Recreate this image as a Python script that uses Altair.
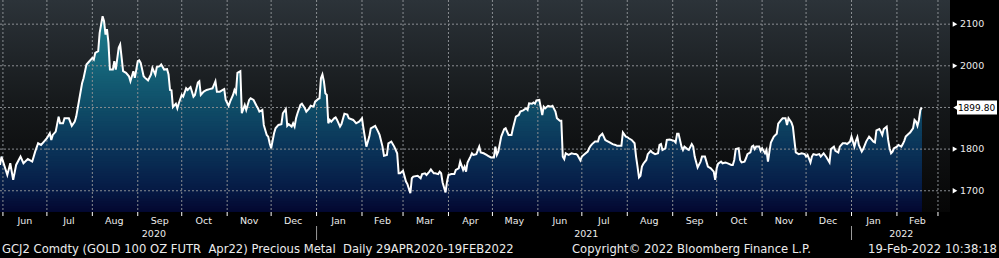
import altair as alt
import pandas as pd

# ---------------- data ----------------
DATES = [
    "2020-05-30", "2020-05-31",
    "2020-06-04", "2020-06-06", "2020-06-08", "2020-06-10", "2020-06-13", "2020-06-15", "2020-06-18",
    "2020-06-21", "2020-06-23", "2020-06-25", "2020-06-27", "2020-06-29",
    "2020-07-01", "2020-07-03", "2020-07-04", "2020-07-05", "2020-07-07", "2020-07-09", "2020-07-10",
    "2020-07-12", "2020-07-13", "2020-07-16", "2020-07-18", "2020-07-20", "2020-07-21", "2020-07-23",
    "2020-07-25", "2020-07-26", "2020-07-28", "2020-07-30",
    "2020-08-01", "2020-08-02", "2020-08-03", "2020-08-05", "2020-08-06", "2020-08-08", "2020-08-09",
    "2020-08-10", "2020-08-11", "2020-08-12", "2020-08-13", "2020-08-15", "2020-08-16", "2020-08-17",
    "2020-08-19", "2020-08-20", "2020-08-21", "2020-08-22", "2020-08-24", "2020-08-26", "2020-08-27",
    "2020-08-29", "2020-08-30",
    "2020-09-01", "2020-09-02", "2020-09-03", "2020-09-05", "2020-09-06", "2020-09-08", "2020-09-10",
    "2020-09-11", "2020-09-13", "2020-09-14", "2020-09-16", "2020-09-17", "2020-09-19", "2020-09-21",
    "2020-09-22", "2020-09-23", "2020-09-24", "2020-09-25", "2020-09-27", "2020-09-28", "2020-09-29",
    "2020-10-01", "2020-10-02", "2020-10-04", "2020-10-05", "2020-10-07", "2020-10-09", "2020-10-10",
    "2020-10-12", "2020-10-13", "2020-10-14", "2020-10-16", "2020-10-18", "2020-10-20", "2020-10-22",
    "2020-10-24", "2020-10-25", "2020-10-27", "2020-10-29", "2020-10-30", "2020-10-31",
    "2020-11-02", "2020-11-03", "2020-11-05", "2020-11-06", "2020-11-07", "2020-11-08", "2020-11-10",
    "2020-11-11", "2020-11-13", "2020-11-14", "2020-11-16", "2020-11-17", "2020-11-19", "2020-11-21",
    "2020-11-22", "2020-11-23", "2020-11-25", "2020-11-26", "2020-11-28", "2020-11-29", "2020-11-30",
    "2020-12-01", "2020-12-03", "2020-12-04", "2020-12-06", "2020-12-08", "2020-12-09", "2020-12-11",
    "2020-12-12", "2020-12-13", "2020-12-15", "2020-12-16", "2020-12-17", "2020-12-18", "2020-12-19",
    "2020-12-21", "2020-12-22", "2020-12-24", "2020-12-25", "2020-12-27", "2020-12-28", "2020-12-30",
    "2020-12-31",
    "2021-01-02", "2021-01-03", "2021-01-04", "2021-01-05", "2021-01-06", "2021-01-07", "2021-01-08",
    "2021-01-09", "2021-01-10", "2021-01-11", "2021-01-13", "2021-01-14", "2021-01-15", "2021-01-17",
    "2021-01-18", "2021-01-20", "2021-01-22", "2021-01-23", "2021-01-26", "2021-01-28", "2021-01-30",
    "2021-02-01", "2021-02-02", "2021-02-04", "2021-02-06", "2021-02-07", "2021-02-10", "2021-02-12",
    "2021-02-13", "2021-02-15", "2021-02-16", "2021-02-18", "2021-02-19", "2021-02-21", "2021-02-23",
    "2021-02-25", "2021-02-26", "2021-02-27",
    "2021-03-01", "2021-03-03", "2021-03-04", "2021-03-06", "2021-03-07", "2021-03-08", "2021-03-11",
    "2021-03-13", "2021-03-14", "2021-03-16", "2021-03-17", "2021-03-19", "2021-03-20", "2021-03-22",
    "2021-03-23", "2021-03-25", "2021-03-26", "2021-03-27", "2021-03-28", "2021-03-30", "2021-03-31",
    "2021-04-01", "2021-04-03", "2021-04-05", "2021-04-06", "2021-04-08", "2021-04-09", "2021-04-11",
    "2021-04-12", "2021-04-13", "2021-04-14", "2021-04-16", "2021-04-17", "2021-04-18", "2021-04-20",
    "2021-04-22", "2021-04-23", "2021-04-25", "2021-04-27", "2021-04-28", "2021-04-30",
    "2021-05-02", "2021-05-03", "2021-05-04", "2021-05-05", "2021-05-07", "2021-05-09", "2021-05-10",
    "2021-05-12", "2021-05-14", "2021-05-15", "2021-05-17", "2021-05-19", "2021-05-20", "2021-05-22",
    "2021-05-24", "2021-05-25", "2021-05-26", "2021-05-28", "2021-05-29", "2021-05-30", "2021-05-31",
    "2021-06-02", "2021-06-04", "2021-06-05", "2021-06-06", "2021-06-08", "2021-06-10", "2021-06-11",
    "2021-06-13", "2021-06-14", "2021-06-16", "2021-06-17", "2021-06-18", "2021-06-19", "2021-06-20",
    "2021-06-22", "2021-06-24", "2021-06-26", "2021-06-27", "2021-06-28", "2021-06-30",
    "2021-07-01", "2021-07-03", "2021-07-05", "2021-07-06", "2021-07-07", "2021-07-08", "2021-07-10",
    "2021-07-12", "2021-07-13", "2021-07-15", "2021-07-17", "2021-07-18", "2021-07-20", "2021-07-22",
    "2021-07-24", "2021-07-25", "2021-07-27", "2021-07-28", "2021-07-29", "2021-07-31",
    "2021-08-01", "2021-08-02", "2021-08-04", "2021-08-06", "2021-08-07", "2021-08-08", "2021-08-09",
    "2021-08-10", "2021-08-11", "2021-08-12", "2021-08-14", "2021-08-15", "2021-08-17", "2021-08-18",
    "2021-08-20", "2021-08-22", "2021-08-23", "2021-08-24", "2021-08-25", "2021-08-27", "2021-08-28",
    "2021-08-30", "2021-08-31",
    "2021-09-02", "2021-09-03", "2021-09-04", "2021-09-05", "2021-09-07", "2021-09-08", "2021-09-09",
    "2021-09-11", "2021-09-12", "2021-09-14", "2021-09-15", "2021-09-16", "2021-09-18", "2021-09-20",
    "2021-09-21", "2021-09-23", "2021-09-25", "2021-09-27", "2021-09-29", "2021-09-30",
    "2021-10-01", "2021-10-02", "2021-10-04", "2021-10-05", "2021-10-07", "2021-10-09", "2021-10-11",
    "2021-10-12", "2021-10-13", "2021-10-14", "2021-10-16", "2021-10-17", "2021-10-18", "2021-10-20",
    "2021-10-21", "2021-10-22", "2021-10-24", "2021-10-25", "2021-10-26", "2021-10-27", "2021-10-28",
    "2021-10-30", "2021-10-31",
    "2021-11-01", "2021-11-03", "2021-11-04", "2021-11-05", "2021-11-06", "2021-11-07", "2021-11-09",
    "2021-11-11", "2021-11-12", "2021-11-14", "2021-11-15", "2021-11-17", "2021-11-18", "2021-11-19",
    "2021-11-21", "2021-11-22", "2021-11-23", "2021-11-24", "2021-11-26", "2021-11-28", "2021-11-30",
    "2021-12-01", "2021-12-02", "2021-12-04", "2021-12-05", "2021-12-06", "2021-12-08", "2021-12-10",
    "2021-12-11", "2021-12-13", "2021-12-15", "2021-12-16", "2021-12-17", "2021-12-18", "2021-12-20",
    "2021-12-21", "2021-12-23", "2021-12-24", "2021-12-26", "2021-12-28", "2021-12-29", "2021-12-31",
    "2022-01-01", "2022-01-03", "2022-01-04", "2022-01-05", "2022-01-06", "2022-01-08", "2022-01-09",
    "2022-01-11", "2022-01-13", "2022-01-14", "2022-01-16", "2022-01-17", "2022-01-18", "2022-01-20",
    "2022-01-21", "2022-01-22", "2022-01-23", "2022-01-25", "2022-01-26", "2022-01-27", "2022-01-28",
    "2022-01-29", "2022-01-30",
    "2022-02-01", "2022-02-02", "2022-02-04", "2022-02-05", "2022-02-06", "2022-02-07", "2022-02-09",
    "2022-02-10", "2022-02-11", "2022-02-12", "2022-02-13", "2022-02-14", "2022-02-15", "2022-02-16",
    "2022-02-17", "2022-02-18",
]

PRICES = [
    1762, 1782,
    1738, 1766, 1726, 1762, 1782, 1766, 1776,
    1770, 1794, 1814, 1810, 1818,
    1826, 1838, 1822, 1834, 1842, 1878, 1862,
    1862, 1874, 1874, 1856, 1866, 1878, 1918,
    1958, 1970, 2003, 2011,
    2019, 2015, 2031, 2035, 2079, 2119, 2107,
    2075, 2088, 2055, 1991, 1991, 2011, 1991,
    2043, 2051, 2019, 1987, 1983, 1975, 1963,
    1987, 1971,
    2011, 2013, 2007, 1975, 1971, 1965, 1979,
    1995, 1979, 1997, 1999, 2003, 1991, 1992,
    1979, 1942, 1941, 1901, 1909, 1898, 1910,
    1930, 1926, 1946, 1942, 1949, 1926, 1930,
    1960, 1963, 1930, 1938, 1942, 1944, 1946,
    1963, 1938, 1938, 1942, 1944, 1918,
    1904, 1914, 1930, 1942, 1935, 1983, 1987,
    1886, 1906, 1894, 1918, 1922, 1918, 1904,
    1898, 1890, 1894, 1858, 1834, 1830, 1814,
    1802, 1838, 1850, 1858, 1860, 1886, 1896,
    1856, 1860, 1854, 1862, 1854, 1874, 1886,
    1906, 1909, 1898, 1890, 1898, 1904, 1902,
    1914,
    1920, 1922, 1970, 1979, 1963, 1934, 1930,
    1862, 1870, 1866, 1874, 1876, 1870, 1854,
    1860, 1885, 1883, 1874, 1870, 1862, 1866,
    1874, 1850, 1806, 1830, 1850, 1856, 1842,
    1834, 1806, 1784, 1786, 1814, 1818, 1806,
    1790, 1742, 1742,
    1748, 1722, 1716, 1694, 1730, 1734, 1736,
    1730, 1740, 1742, 1738, 1746, 1751, 1742,
    1742, 1740, 1746, 1742, 1720, 1696, 1722,
    1738, 1740, 1740, 1750, 1754, 1770, 1750,
    1758, 1746, 1768, 1782, 1790, 1786, 1788,
    1806, 1792, 1790, 1786, 1784, 1780,
    1780, 1806, 1786, 1794, 1830, 1848, 1850,
    1834, 1834, 1850, 1878, 1882, 1890, 1893,
    1898, 1894, 1910, 1909, 1912, 1909, 1917,
    1918, 1882, 1902, 1898, 1904, 1902, 1904,
    1890, 1874, 1868, 1868, 1782, 1776, 1790,
    1786, 1790, 1788, 1788, 1786, 1773,
    1782, 1788, 1794, 1802, 1808, 1812, 1818,
    1818, 1830, 1837, 1822, 1820, 1816, 1812,
    1810, 1808, 1808, 1808, 1840, 1830,
    1829, 1826, 1822, 1814, 1782, 1758, 1732,
    1736, 1758, 1765, 1774, 1788, 1796, 1792,
    1788, 1790, 1810, 1812, 1798, 1802, 1822,
    1823, 1822,
    1820, 1816, 1837, 1837, 1806, 1798, 1806,
    1800, 1798, 1812, 1806, 1782, 1756, 1770,
    1782, 1782, 1758, 1754, 1746, 1726,
    1754, 1765, 1770, 1766, 1768, 1765, 1762,
    1762, 1774, 1800, 1802, 1774, 1768, 1770,
    1778, 1788, 1792, 1806, 1808, 1800, 1806,
    1806, 1796,
    1802, 1790, 1798, 1770, 1794, 1816, 1830,
    1837, 1861, 1870, 1874, 1874, 1858, 1874,
    1864, 1854, 1822, 1792, 1788, 1790, 1788,
    1782, 1786, 1768, 1782, 1788, 1786, 1788,
    1782, 1790, 1780, 1774, 1768, 1800, 1806,
    1796, 1792, 1806, 1814, 1814, 1812, 1818,
    1830, 1806, 1820, 1829, 1810, 1794, 1800,
    1818, 1830, 1826, 1818, 1816, 1845, 1848,
    1842, 1834, 1848, 1854, 1822, 1802, 1790,
    1794, 1802,
    1806, 1810, 1806, 1812, 1820, 1830, 1837,
    1840, 1845, 1850, 1870, 1866, 1856, 1870,
    1894, 1899.80,
]

MONTH_STARTS = [
    "2020-06-01", "2020-07-01", "2020-08-01", "2020-09-01", "2020-10-01", "2020-11-01",
    "2020-12-01", "2021-01-01", "2021-02-01", "2021-03-01", "2021-04-01", "2021-05-01",
    "2021-06-01", "2021-07-01", "2021-08-01", "2021-09-01", "2021-10-01", "2021-11-01",
    "2021-12-01", "2022-01-01", "2022-02-01", "2022-03-01",
]
MONTH_LABELS = ["Jun", "Jul", "Aug", "Sep", "Oct", "Nov", "Dec", "Jan", "Feb", "Mar", "Apr",
                "May", "Jun", "Jul", "Aug", "Sep", "Oct", "Nov", "Dec", "Jan", "Feb"]
MONTH_MIDS = [
    "2020-06-16", "2020-07-16", "2020-08-16", "2020-09-16", "2020-10-16", "2020-11-16",
    "2020-12-16", "2021-01-16", "2021-02-15", "2021-03-16", "2021-04-16", "2021-05-16",
    "2021-06-16", "2021-07-16", "2021-08-16", "2021-09-16", "2021-10-16", "2021-11-16",
    "2021-12-16", "2022-01-16", "2022-02-15",
]
YEAR_LABELS = ["2020", "2021", "2022"]
YEAR_POS = ["2020-09-12", "2021-07-04", "2022-02-04"]
YEAR_BREAKS = ["2021-01-01", "2022-01-01"]
Y_GRID = [1700, 1800, 1900, 2000, 2100]
Y_LABELED = [1700, 1800, 2000, 2100]
Y_LABEL_TEXT = ["1700", "1800", "2000", "2100"]
Y_TICKS = [1650, 1700, 1750, 1800, 1850, 1900, 1950, 2000, 2050, 2100]
LAST_PRICE = 1899.80
LAST_LABEL = "1899.80"
FOOTER_LEFT = "GCJ2 Comdty (GOLD 100 OZ FUTR \u00a0Apr22) Precious Metal \u00a0Daily 29APR2020-19FEB2022"
FOOTER_MID = "Copyright\u00a9 2022 Bloomberg Finance L.P."
FOOTER_RIGHT = "19-Feb-2022 10:38:18"

# ---------------- styling ----------------
W, H = 950, 212
FONT = "DejaVu Sans"
TXT = "#ececec"
GRID = "#8a8e92"
Y_MIN, Y_MAX = 1649, 2158

# colour of the area fill by price level (style only)
FILL_STOPS = [(2125, "#1c7f8f"), (2014, "#16687c"), (1899, "#0f4c67"),
              (1798, "#0a3358"), (1702, "#061a45"), (1649, "#030730")]


def _hex(c):
    return tuple(int(c[i:i + 2], 16) for i in (1, 3, 5))


def fill_at(v):
    for (v0, c0), (v1, c1) in zip(FILL_STOPS[:-1], FILL_STOPS[1:]):
        if v1 <= v <= v0:
            t = (v0 - v) / (v0 - v1)
            a, b = _hex(c0), _hex(c1)
            return "#%02x%02x%02x" % tuple(round(a[i] + (b[i] - a[i]) * t) for i in range(3))
    return FILL_STOPS[-1][1] if v < FILL_STOPS[-1][0] else FILL_STOPS[0][1]


df = pd.DataFrame({"date": DATES, "price": PRICES})
months_df = pd.DataFrame({"date": MONTH_STARTS})
mids_df = pd.DataFrame({"date": MONTH_MIDS, "label": MONTH_LABELS})
years_df = pd.DataFrame({"date": YEAR_POS, "label": YEAR_LABELS})
breaks_df = pd.DataFrame({"date": YEAR_BREAKS})
grid_df = pd.DataFrame({"v": Y_GRID})
lab_df = pd.DataFrame({"v": Y_LABELED, "label": Y_LABEL_TEXT})
last_df = pd.DataFrame({"v": [LAST_PRICE], "t": [LAST_LABEL]})
one = pd.DataFrame({"a": [0]})

x_scale = alt.Scale(
    type="utc",
    domain=[alt.DateTime(year=2020, month=5, date=30, utc=True),
            alt.DateTime(year=2022, month=3, date=9, hours=5, utc=True)],
)
y_scale = alt.Scale(domain=[Y_MIN, Y_MAX], nice=False, zero=False)

X = alt.X("date:T", scale=x_scale,
          axis=alt.Axis(orient="bottom", domain=True, domainColor="white", domainWidth=1.5,
                        ticks=False, labels=False, grid=False, title=None, zindex=1))
X_NOAX = alt.X("date:T", scale=x_scale, axis=None)
Y = alt.Y("price:Q", scale=y_scale,
          axis=alt.Axis(orient="right", values=Y_TICKS, labels=False,
                        domainColor="white", domainWidth=1.5, tickColor="white", tickSize=4,
                        grid=False, title=None, zindex=1))

bg = alt.Chart(one).mark_rect(
    fill=alt.Gradient(gradient="linear", x1=0, x2=0, y1=0, y2=1,
                      stops=[alt.GradientStop(color="#2c3339", offset=0),
                             alt.GradientStop(color="#15181a", offset=0.5),
                             alt.GradientStop(color="#060606", offset=1)])
).encode(x=alt.value(0), x2=alt.value(W), y=alt.value(0), y2=alt.value(H))

# area: stacked bands, each filling up to min(price, level), giving a vertical colour ramp
bands = []
for lvl in range(2125, Y_MIN, -6):
    bands.append(
        alt.Chart(df).transform_calculate(yb=f"min(datum.price, {lvl})")
        .mark_area(color=fill_at(lvl - 3), opacity=1, clip=True)
        .encode(x=X_NOAX, y=alt.Y("yb:Q", scale=y_scale, axis=None), y2=alt.value(H))
    )

hgrid = alt.Chart(grid_df).mark_rule(color=GRID, strokeDash=[2, 2], strokeWidth=1).encode(
    y=alt.Y("v:Q", scale=y_scale, axis=None))
vgrid = alt.Chart(months_df).mark_rule(color=GRID, strokeDash=[2, 2], strokeWidth=1).encode(
    x=X_NOAX)

line = alt.Chart(df).mark_line(color="white", strokeWidth=2).encode(x=X, y=Y)

cover = alt.Chart(one).mark_rect(color="black").encode(
    x=alt.value(0), x2=alt.value(W + 49), y=alt.value(H + 1), y2=alt.value(H + 46))

mticks = alt.Chart(months_df).mark_rule(color="white", strokeWidth=1).encode(
    x=X_NOAX, y=alt.value(H), y2=alt.value(H + 4))
mlabels = alt.Chart(mids_df).mark_text(color=TXT, font=FONT, fontSize=9.5, baseline="alphabetic").encode(
    x=X_NOAX, y=alt.value(224), text="label:N")
ylabels = alt.Chart(years_df).mark_text(color=TXT, font=FONT, fontSize=9.5, baseline="alphabetic").encode(
    x=X_NOAX, y=alt.value(237), text="label:N")
ybreaks = alt.Chart(breaks_df).mark_rule(color="#9a9a9a", strokeWidth=1).encode(
    x=X_NOAX, y=alt.value(226), y2=alt.value(240))

arrows = alt.Chart(lab_df).mark_point(
    shape="triangle-right", filled=True, color="white", size=28, opacity=1, strokeWidth=0
).encode(x=alt.value(W + 5), y=alt.Y("v:Q", scale=y_scale, axis=None))
axis_txt = alt.Chart(lab_df).mark_text(
    color=TXT, font=FONT, fontSize=9.5, align="left", baseline="middle"
).encode(x=alt.value(W + 10), y=alt.Y("v:Q", scale=y_scale, axis=None), text="label:N")

flag_box = alt.Chart(last_df).mark_tick(orient="horizontal", size=40, thickness=14,
                                        color="white", opacity=1).encode(
    x=alt.value(977), y=alt.Y("v:Q", scale=y_scale, axis=None))
flag_ptr = alt.Chart(last_df).mark_point(
    shape="triangle-left", filled=True, color="white", size=40, opacity=1, strokeWidth=0
).encode(x=alt.value(956), y=alt.Y("v:Q", scale=y_scale, axis=None))
flag_txt = alt.Chart(last_df).mark_text(color="black", font=FONT, fontSize=9, align="center",
                                        baseline="middle").encode(
    x=alt.value(976.5), y=alt.Y("v:Q", scale=y_scale, axis=None), text="t:N")

foot_l = alt.Chart(pd.DataFrame({"t": [FOOTER_LEFT]})).mark_text(
    color=TXT, font=FONT, fontSize=11.6, align="left", baseline="alphabetic").encode(
    x=alt.value(2), y=alt.value(253), text="t:N")
foot_m = alt.Chart(pd.DataFrame({"t": [FOOTER_MID]})).mark_text(
    color=TXT, font=FONT, fontSize=11.6, align="left", baseline="alphabetic").encode(
    x=alt.value(572), y=alt.value(253), text="t:N")
foot_r = alt.Chart(pd.DataFrame({"t": [FOOTER_RIGHT]})).mark_text(
    color=TXT, font=FONT, fontSize=11.6, align="right", baseline="alphabetic").encode(
    x=alt.value(997), y=alt.value(253), text="t:N")

chart = alt.layer(
    bg, *bands, hgrid, vgrid, line, cover, mticks, mlabels, ylabels, ybreaks,
    arrows, axis_txt, flag_box, flag_ptr, flag_txt, foot_l, foot_m, foot_r,
).properties(
    width=W, height=H,
    padding={"left": 0, "top": 0, "right": 49, "bottom": 46},
    autosize=alt.AutoSizeParams(type="none"),
    background="black",
).configure_view(stroke=None)

chart.save("out.html", embed_options={"renderer": "svg", "actions": False})
